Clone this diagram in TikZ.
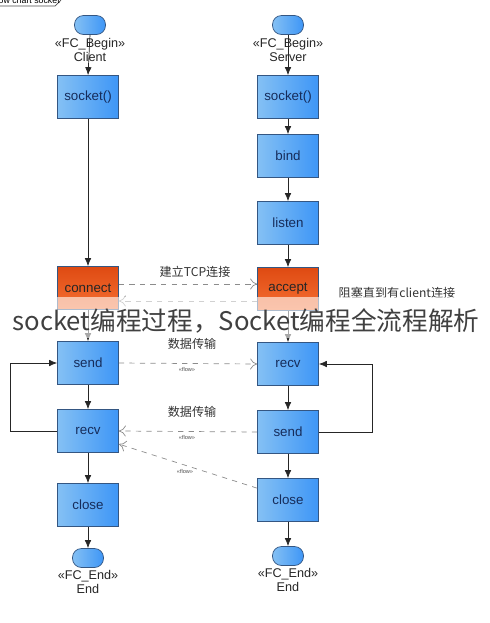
\documentclass[tikz,border=0pt]{standalone}
\usepackage{fontspec}
\setmainfont{Liberation Sans}
\newfontfamily\cjk{Noto Sans CJK SC}
\usetikzlibrary{arrows.meta,calc}
\definecolor{boxL}{RGB}{132,192,244}
\definecolor{boxR}{RGB}{62,150,246}
\definecolor{boxD}{RGB}{52,86,130}
\definecolor{boxT}{RGB}{22,44,90}
\definecolor{oraT}{RGB}{222,74,18}
\definecolor{oraB}{RGB}{246,112,52}
\tikzset{
  stepbox/.style={draw=boxD, left color=boxL, right color=boxR, text=boxT,
    minimum width=1.22cm, minimum height=0.86cm, font=\fontsize{7.6}{9}\selectfont},
  hotbox/.style={stepbox, top color=oraT, bottom color=oraB, text=black!85},
  terminal/.style={draw=boxD, left color=boxL, right color=boxR,
    rounded corners=0.18cm, minimum width=0.62cm, minimum height=0.38cm},
  tag/.style={align=center, text=black!85, font=\fontsize{7.2}{8}\selectfont},
  flow/.style={-{Latex[length=1.6mm,width=1.3mm]}, black!85},
  msg/.style={-{To[length=1.4mm,width=2.2mm]}, dashed, black!45},
  note/.style={text=black!80, font=\cjk\fontsize{6.9}{8}\selectfont},
  stereo/.style={text=black!70, font=\fontsize{3.2}{4}\selectfont}
}
\begin{document}
\begin{tikzpicture}[x=0.02cm,y=-0.02cm]
  \useasboundingbox (0,0) rectangle (490,623);
  % tab
  \draw[black!70] (0,6) -- (55,6) -- (61,0);
  \node[anchor=base, font=\fontsize{5}{6}\selectfont] (tab) at (27,3.5) {flow chart socket};

  % client
  \node[terminal] (cBegin) at (90,25) {};
  \node[tag] (cBeginTag) at (90,50) {«FC\_Begin»\\Client};
  \node[stepbox] (cSocket) at (88,97) {socket()};
  \node[hotbox] (cConnect) at (88,288) {connect};
  \node[stepbox] (cSend) at (88,363) {send};
  \node[stepbox] (cRecv) at (88,431) {recv};
  \node[stepbox] (cClose) at (88,505) {close};
  \node[terminal] (cEnd) at (88,558) {};
  \node[tag] (cEndTag) at (88,582) {«FC\_End»\\End};

  % server
  \node[terminal] (sBegin) at (288,25) {};
  \node[tag] (sBeginTag) at (288,50) {«FC\_Begin»\\Server};
  \node[stepbox] (sSocket) at (288,97) {socket()};
  \node[stepbox] (sBind) at (288,156) {bind};
  \node[stepbox] (sListen) at (288,223) {listen};
  \node[hotbox] (sAccept) at (288,289) {accept};
  \node[stepbox] (sRecv) at (288,364) {recv};
  \node[stepbox] (sSend) at (288,432) {send};
  \node[stepbox] (sClose) at (288,500) {close};
  \node[terminal] (sEnd) at (288,556) {};
  \node[tag] (sEndTag) at (288,580) {«FC\_End»\\End};

  \foreach \a/\b in {cBegin/cSocket,cSocket/cConnect,cConnect/cSend,cSend/cRecv,cRecv/cClose,cClose/cEnd,
                     sBegin/sSocket,sSocket/sBind,sBind/sListen,sListen/sAccept,sAccept/sRecv,sRecv/sSend,sSend/sClose,sClose/sEnd}
    \draw[flow] (\a.south) -- (\b.north);

  % loops
  \draw[flow] (cRecv.west) -- ++(-47,0) coordinate (cLoop) |- (cSend.west);
  \draw[flow] (sSend.east) -- ++(54,0) coordinate (sLoop) |- (sRecv.east);

  % messages
  \draw[msg] ($(cConnect.east)+(0,-4)$) -- ($(sAccept.west)+(0,-5)$);
  \draw[msg] ($(sAccept.west)+(0,12)$) -- ($(cConnect.east)+(0,13)$);
  \draw[msg] (cSend.east) -- (sRecv.west);
  \draw[msg] (sSend.west) -- (cRecv.east);
  \draw[msg] (sClose.159) -- (cRecv.337);

  \node[note] (tcp) at (195,272) {建立TCP连接};
  \node[note] (block) at (397,293) {阻塞直到有client连接};
  \node[note] (data1) at (192,344) {数据传输};
  \node[stereo] (flow1) at (187,369) {«flow»};
  \node[note] (data2) at (192,412) {数据传输};
  \node[stereo] (flow2) at (187,437) {«flow»};
  \node[stereo] (flow3) at (185,471) {«flow»};

  % banner
  \fill[white,opacity=0.6] (0,297) rectangle (490,338);
  \node[text=black!75, font=\cjk\fontsize{14.6}{16}\selectfont] (title) at (246,321)
    {socket编程过程，Socket编程全流程解析};
\end{tikzpicture}
\end{document}
